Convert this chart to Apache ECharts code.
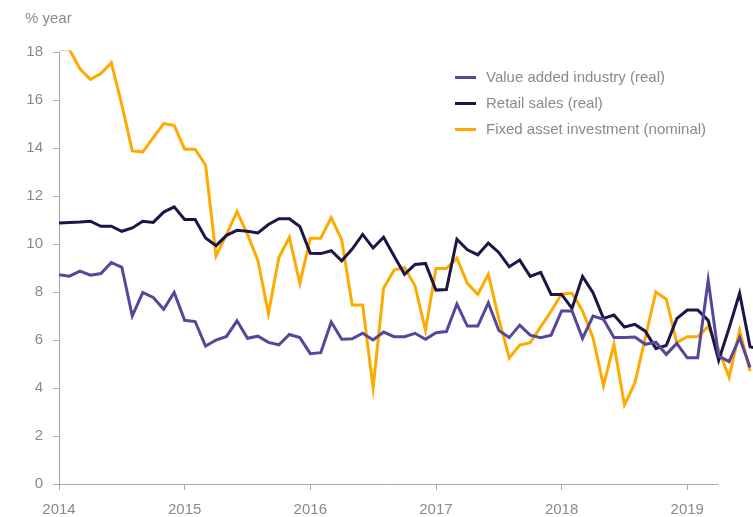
<!DOCTYPE html>
<html>
<head>
<meta charset="utf-8">
<script src="https://cdn.jsdelivr.net/npm/echarts@6/dist/echarts.min.js"></script>
<style>
  html, body { margin: 0; padding: 0; background: #ffffff; }
  #chart { width: 753px; height: 517px; }
</style>
</head>
<body>
<div id="chart"></div>
<script>
// Monthly observations, January 2014 onwards (year-on-year growth, %)
const months = [
  '2014-01','2014-02','2014-03','2014-04','2014-05','2014-06','2014-07','2014-08','2014-09','2014-10','2014-11','2014-12',
  '2015-01','2015-02','2015-03','2015-04','2015-05','2015-06','2015-07','2015-08','2015-09','2015-10','2015-11','2015-12',
  '2016-01','2016-02','2016-03','2016-04','2016-05','2016-06','2016-07','2016-08','2016-09','2016-10','2016-11','2016-12',
  '2017-01','2017-02','2017-03','2017-04','2017-05','2017-06','2017-07','2017-08','2017-09','2017-10','2017-11','2017-12',
  '2018-01','2018-02','2018-03','2018-04','2018-05','2018-06','2018-07','2018-08','2018-09','2018-10','2018-11','2018-12',
  '2019-01','2019-02','2019-03','2019-04','2019-05','2019-06','2019-07','2019-08'
];

const valueAddedIndustry = [
  8.72, 8.66, 8.87, 8.70, 8.77, 9.23, 9.03, 7.00, 7.98, 7.77, 7.28, 7.98,
  6.82, 6.77, 5.75, 6.00, 6.15, 6.80, 6.07, 6.16, 5.90, 5.80, 6.23, 6.10,
  5.43, 5.47, 6.75, 6.03, 6.05, 6.28, 6.00, 6.33, 6.14, 6.14, 6.28, 6.03,
  6.30, 6.35, 7.50, 6.58, 6.58, 7.55, 6.40, 6.10, 6.62, 6.20, 6.10, 6.20,
  7.21, 7.21, 6.07, 7.00, 6.86, 6.10, 6.10, 6.12, 5.82, 5.91, 5.40, 5.86,
  5.26, 5.26, 8.50, 5.33, 5.10, 6.10, 4.85
];

const retailSales = [
  10.87, 10.90, 10.92, 10.95, 10.74, 10.74, 10.53, 10.67, 10.95, 10.90, 11.33, 11.55,
  11.02, 11.02, 10.25, 9.93, 10.36, 10.57, 10.53, 10.46, 10.81, 11.05, 11.05, 10.73,
  9.61, 9.60, 9.72, 9.30, 9.79, 10.40, 9.83, 10.28, 9.50, 8.74, 9.15, 9.19,
  8.08, 8.10, 10.20, 9.76, 9.55, 10.04, 9.65, 9.05, 9.33, 8.65, 8.82, 7.90,
  7.90, 7.32, 8.65, 7.97, 6.90, 7.04, 6.54, 6.65, 6.37, 5.65, 5.77, 6.89,
  7.25, 7.25, 6.82, 5.15, 6.50, 7.95, 5.72, 5.60
];

const fixedAssetInvestment = [
  18.10, 18.10, 17.30, 16.86, 17.10, 17.55, 15.80, 13.88, 13.84, 14.43, 15.02, 14.94,
  13.95, 13.95, 13.28, 9.50, 10.40, 11.35, 10.40, 9.30, 7.10, 9.44, 10.28, 8.35,
  10.24, 10.24, 11.10, 10.17, 7.46, 7.46, 4.00, 8.16, 8.91, 9.02, 8.26, 6.40,
  8.98, 8.98, 9.41, 8.36, 7.90, 8.74, 6.90, 5.25, 5.79, 5.89, 6.55, 7.20,
  7.92, 7.95, 7.21, 6.10, 4.10, 5.82, 3.30, 4.21, 6.10, 8.00, 7.70, 5.89,
  6.14, 6.14, 6.56, 5.60, 4.45, 6.40, 4.70
];

const seriesNames = [
  'Value added industry (real)',
  'Retail sales (real)',
  'Fixed asset investment (nominal)'
];

const yearLabels = ['2014', '2015', '2016', '2017', '2018', '2019'];
const yLabels = [0, 2, 4, 6, 8, 10, 12, 14, 16, 18];

const GREY_TEXT = '#8a8a8a';
const GREY_AXIS = '#a8a8a8';
const FONT = 'Liberation Sans, Arial, Helvetica, sans-serif';
const MONTHS_PER_YEAR = 12;

// x position of each observation = month index since January 2014
const toPoints = arr => arr.map((v, i) => [i, v]);
const yearTickValues = yearLabels.map((_, k) => k * MONTHS_PER_YEAR);

const lineSeries = (name, color, values) => ({
  name: name,
  type: 'line',
  data: toPoints(values),
  showSymbol: false,
  symbol: 'none',
  color: color,
  lineStyle: { color: color, width: 3, join: 'miter', miterLimit: 20 },
  emphasis: { disabled: true },
  clip: true,
  z: 3
});

const chart = echarts.init(document.getElementById('chart'), null, { renderer: 'canvas' });

const fai = lineSeries(seriesNames[2], '#ffaa00', fixedAssetInvestment);
// horizontal base line of the chart, ending in spring 2019
fai.markLine = {
  silent: true,
  symbol: ['none', 'none'],
  label: { show: false },
  animation: false,
  lineStyle: { color: GREY_AXIS, width: 1, type: 'solid' },
  data: [[{ coord: [0, 0] }, { coord: [63, 0] }]]
};

chart.setOption({
  animation: false,
  backgroundColor: '#ffffff',
  textStyle: { fontFamily: FONT },
  title: {
    text: '% year',
    left: 25,
    top: 11,
    padding: 0,
    textStyle: { fontSize: 15, fontWeight: 'normal', color: GREY_TEXT, fontFamily: FONT }
  },
  legend: {
    data: seriesNames,
    orient: 'vertical',
    left: 455,
    top: 70,
    padding: 0,
    icon: 'rect',
    itemWidth: 21,
    itemHeight: 3,
    itemGap: 11,
    selectedMode: false,
    textStyle: { fontSize: 15, color: GREY_TEXT, fontFamily: FONT, padding: [0, 0, 0, 5] }
  },
  grid: { left: 59, right: 0, top: 52, bottom: 33, containLabel: false },
  xAxis: {
    type: 'value',
    min: 0,
    max: 66.28,
    interval: MONTHS_PER_YEAR,
    axisLine: { show: false },
    axisTick: {
      show: true,
      length: 6,
      customValues: yearTickValues,
      lineStyle: { color: GREY_AXIS, width: 1 }
    },
    axisLabel: {
      customValues: yearTickValues,
      formatter: v => yearLabels[Math.round(v / MONTHS_PER_YEAR)] || '',
      fontSize: 15,
      color: GREY_TEXT,
      margin: 18,
      fontFamily: FONT
    },
    splitLine: { show: false }
  },
  yAxis: {
    type: 'value',
    min: yLabels[0],
    max: yLabels[yLabels.length - 1],
    interval: yLabels[1] - yLabels[0],
    axisLine: { show: true, lineStyle: { color: GREY_AXIS, width: 1 } },
    axisTick: { show: true, length: 6, lineStyle: { color: GREY_AXIS, width: 1 } },
    axisLabel: { fontSize: 15, color: GREY_TEXT, margin: 16, fontFamily: FONT },
    splitLine: { show: false }
  },
  series: [
    fai,
    lineSeries(seriesNames[1], '#1c1648', retailSales),
    lineSeries(seriesNames[0], '#56479c', valueAddedIndustry)
  ]
});
</script>
</body>
</html>
